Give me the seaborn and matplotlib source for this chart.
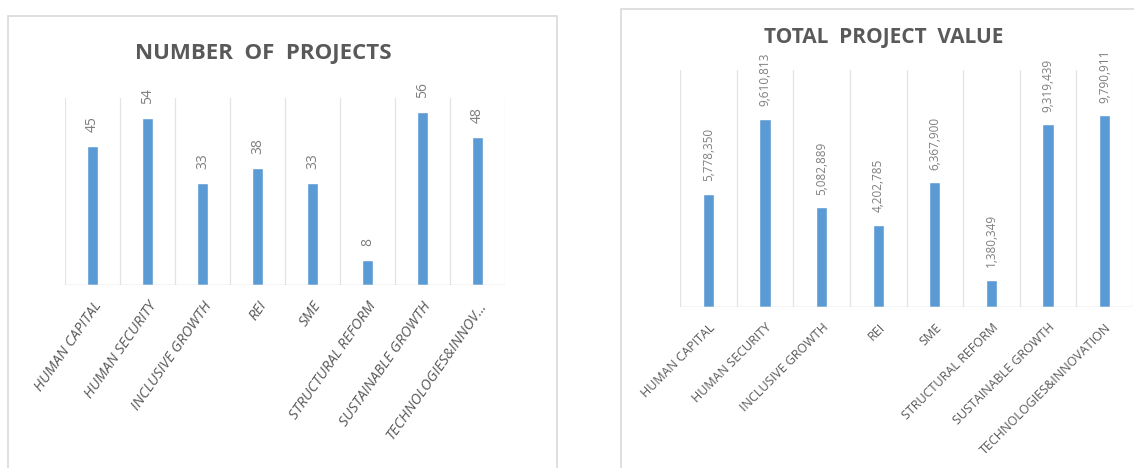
import matplotlib
matplotlib.use('Agg')
import matplotlib.pyplot as plt
import seaborn as sns
import pandas as pd
from matplotlib.patches import Rectangle

CATEGORIES = ['HUMAN CAPITAL', 'HUMAN SECURITY', 'INCLUSIVE GROWTH', 'REI', 'SME',
              'STRUCTURAL REFORM', 'SUSTAINABLE GROWTH', 'TECHNOLOGIES&INNOVATION']
LEFT_LABELS = CATEGORIES[:-1] + ['TECHNOLOGIES&INNOV...']
NUM_PROJECTS = [45, 54, 33, 38, 33, 8, 56, 48]
PROJECT_VALUE = [5778350, 9610813, 5082889, 4202785, 6367900, 1380349, 9319439, 9790911]

BAR_COLOR = '#5b9bd5'
GRID_COLOR = '#e3e3e3'
TEXT_COLOR = '#595959'

sns.set_theme(style='white')
plt.rcParams['font.family'] = ['Open Sans', 'DejaVu Sans']

W, H = 1134, 468
fig = plt.figure(figsize=(W / 100, H / 100), dpi=100)


def px_axes(x0, y0, x1, y1):
    # pixel box (top-left origin) -> figure axes
    return fig.add_axes([x0 / W, 1 - y1 / H, (x1 - x0) / W, (y1 - y0) / H])


# panel frames
fig.patches.append(Rectangle((8 / W, -0.1), (557 - 8) / W, 1.1 - 16 / H, transform=fig.transFigure,
                             fill=False, edgecolor='#d9d9d9', lw=1.2))
fig.patches.append(Rectangle((621 / W, -0.1), (1140 - 621) / W, 1.1 - 9 / H, transform=fig.transFigure,
                             fill=False, edgecolor='#d9d9d9', lw=1.2))


def draw_panel(ax, values, labels, ymax, fmt, title, title_y, title_x, title_size,
               lab_size, lab_rot, val_size, val_off, italic):
    df = pd.DataFrame({'cat': list(range(len(values))), 'val': values})
    sns.barplot(data=df, x='cat', y='val', color=BAR_COLOR, width=0.2, saturation=1, ax=ax)
    ax.set_ylim(0, ymax)
    ax.set_xlim(-0.5, len(values) - 0.5)
    for k in range(len(values) + 1):
        ax.axvline(k - 0.5, color=GRID_COLOR, lw=0.9, zorder=0)
    ax.axhline(0, color='#d0d0d0', lw=1.0, zorder=1)
    for s in ax.spines.values():
        s.set_visible(False)
    ax.set_yticks([])
    ax.set_xlabel('')
    ax.set_ylabel('')
    ax.set_xticks(range(len(values)))
    ax.set_xticklabels(labels, rotation=lab_rot, ha='right', rotation_mode='anchor',
                       fontsize=lab_size, color=TEXT_COLOR, style='italic' if italic else 'normal')
    ax.tick_params(axis='x', length=0, pad=10)
    for i, v in enumerate(values):
        ax.annotate(fmt(v), (i, v), xytext=(0, val_off), textcoords='offset points',
                    rotation=90, ha='center', va='bottom', fontsize=val_size, color='#7f7f7f')
    fig.text(title_x / W, 1 - title_y / H, title, ha='center', va='center',
             fontsize=title_size, fontweight='bold', color=TEXT_COLOR)


ax1 = px_axes(65, 98, 505, 285)
draw_panel(ax1, NUM_PROJECTS, LEFT_LABELS, 60.5, lambda v: f'{v}',
           'NUMBER  OF  PROJECTS', 54, 263, 16, 10.5, 55, 10, 10, True)

ax2 = px_axes(680, 70, 1133, 307)
draw_panel(ax2, PROJECT_VALUE, CATEGORIES, 12.1e6, lambda v: f'{v:,}',
           'TOTAL  PROJECT  VALUE', 37, 884, 15, 9, 45, 8.5, 9, False)

fig.savefig('out.png', dpi=100, facecolor='white')
